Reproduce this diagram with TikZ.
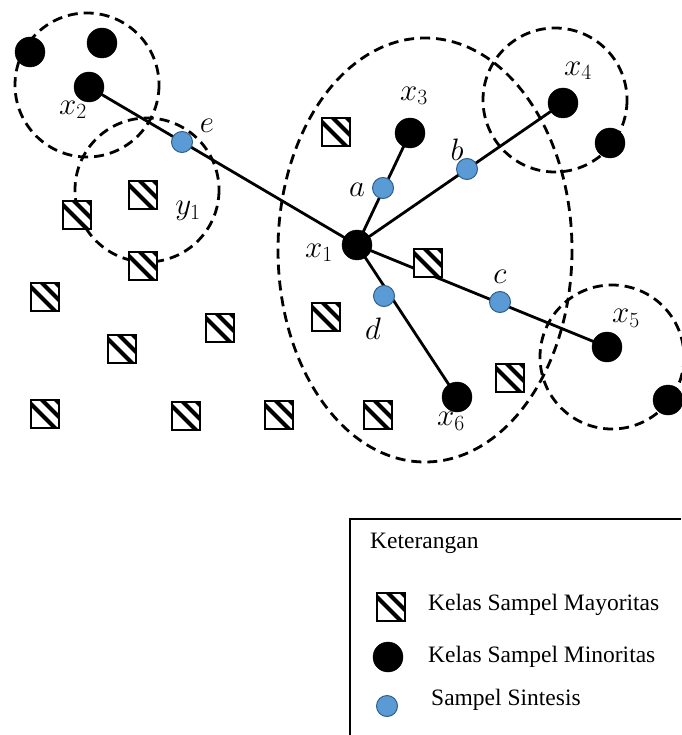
\RequirePackage{fix-cm}
\documentclass[tikz,border=0pt]{standalone}
\usepackage{fontspec}
\newfontfamily\legfont{Liberation Serif}
\usetikzlibrary{backgrounds}
\definecolor{synfill}{HTML}{5B9BD5}
\definecolor{synline}{HTML}{2F5F8A}
\begin{document}
\begin{tikzpicture}[x=1pt,y=-1pt,
  minor/.style={circle,fill=black,draw=black,inner sep=0pt,minimum size=30pt},
  syn/.style={circle,fill=synfill,draw=synline,line width=1pt,inner sep=0pt,minimum size=21pt},
  maj/.style={rectangle,fill=white,draw=black,line width=1.4pt,inner sep=0pt,minimum size=28pt,
    path picture={\foreach \k in {-4,11,25}
      \draw[line width=4.2pt] ([shift={(-20pt,{20pt+\k pt})}]path picture bounding box.center) -- ++(40pt,-40pt);}},
  dashc/.style={draw=black,line width=2.8pt,dash pattern=on 10pt off 6pt},
  edge/.style={draw=black,line width=2.8pt},
  lab/.style={font=\fontsize{31}{36}\selectfont,inner sep=0pt},
  leg/.style={font=\legfont\fontsize{23.5}{28}\selectfont,anchor=base west,inner sep=0pt}]
\useasboundingbox (0,0) rectangle (681,735);
% minority samples
\node[minor] (m1) at (30,52) {};
\node[minor] (m2) at (102,43) {};
\node[minor] (x2) at (89,87) {};
\node[minor] (x3) at (410,133) {};
\node[minor] (x4) at (563,103) {};
\node[minor] (m3) at (610,143) {};
\node[minor] (x1) at (357,245) {};
\node[minor] (x5) at (607,347) {};
\node[minor] (x6) at (457,397) {};
\node[minor] (m4) at (668,400) {};
% synthetic samples
\node[syn] (e) at (182,142) {};
\node[syn] (a) at (383,188) {};
\node[syn] (b) at (467,169) {};
\node[syn] (c) at (500,302) {};
\node[syn] (d) at (384,296) {};
% majority samples
\node[maj] (s1) at (143,195) {};
\node[maj] (s2) at (77,215) {};
\node[maj] (s3) at (143,266) {};
\node[maj] (s4) at (336,132) {};
\node[maj] (s5) at (428,263) {};
\node[maj] (s6) at (326,317) {};
\node[maj] (s7) at (510,378) {};
\node[maj] (s8) at (378,415) {};
\node[maj] (s9) at (279,415) {};
\node[maj] (s10) at (45,297) {};
\node[maj] (s11) at (220,328) {};
\node[maj] (s12) at (122,349) {};
\node[maj] (s13) at (45,414) {};
\node[maj] (s14) at (186,416) {};
\begin{pgfonlayer}{background}
\draw[dashc] (87,85) circle[radius=72];
\draw[dashc] (147,190) circle[radius=72];
\draw[dashc] (425,250) ellipse[x radius=147, y radius=212];
\draw[dashc] (555,100) circle[radius=72];
\draw[dashc] (612,357) circle[radius=72];
\draw[edge] (x1.center) -- (x2.center);
\draw[edge] (x1.center) -- (x3.center);
\draw[edge] (x1.center) -- (x4.center);
\draw[edge] (x1.center) -- (x5.center);
\draw[edge] (x1.center) -- (x6.center);
\end{pgfonlayer}
% labels
\node[lab] (lx2) at (73,110) {$x_2$};
\node[lab] (le) at (207,126) {$e$};
\node[lab] (ly1) at (188,211) {$y_1$};
\node[lab] (lx3) at (414,96) {$x_3$};
\node[lab] (lx4) at (578,71) {$x_4$};
\node[lab] (la) at (357,190) {$a$};
\node[lab] (lb) at (457,150) {$b$};
\node[lab] (lx1) at (319,253) {$x_1$};
\node[lab] (lc) at (500,277) {$c$};
\node[lab] (ld) at (373,329) {$d$};
\node[lab] (lx5) at (626,318) {$x_5$};
\node[lab] (lx6) at (451,421) {$x_6$};
% legend
\coordinate (lgtl) at (350,519);
\coordinate (lgtr) at (681,519);
\coordinate (lgbl) at (350,735);
\draw[line width=1.5pt] (lgbl) -- (lgtl) -- (lgtr);
\node[leg] (kt) at (370,548) {Keterangan};
\node[maj] (lsq) at (391,607) {};
\node[leg] (t1) at (428,610) {Kelas Sampel Mayoritas};
\node[minor] (lci) at (388,657) {};
\node[leg] (t2) at (428,662) {Kelas Sampel Minoritas};
\node[syn] (lsy) at (387,706) {};
\node[leg] (t3) at (431,705) {Sampel Sintesis};
\end{tikzpicture}
\end{document}
